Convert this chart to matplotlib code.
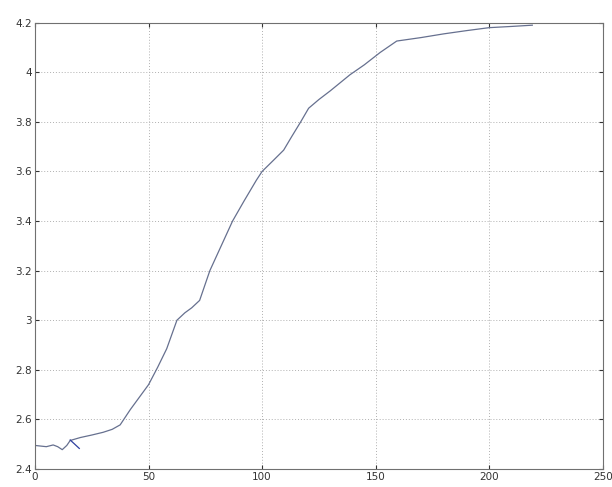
import matplotlib
matplotlib.use("Agg")
import matplotlib.pyplot as plt

# main curve
x_main = [0, 3, 5, 8, 10, 12, 14, 15.5, 20, 25, 30, 34, 37.5, 42, 46, 50, 54, 58, 62.5, 66, 69, 72.5, 77, 82, 87, 92, 97.5, 100, 105, 109.5, 113, 117, 120.5, 125, 130, 138.7, 145, 152, 159.3, 170, 180, 190, 200, 210, 219]
y_main = [2.495, 2.492, 2.49, 2.497, 2.49, 2.478, 2.495, 2.515, 2.527, 2.537, 2.548, 2.56, 2.578, 2.64, 2.69, 2.74, 2.81, 2.885, 3.0, 3.03, 3.05, 3.08, 3.2, 3.3, 3.4, 3.48, 3.565, 3.6, 3.645, 3.686, 3.74, 3.8, 3.855, 3.89, 3.925, 3.99, 4.03, 4.08, 4.126, 4.14, 4.155, 4.168, 4.18, 4.185, 4.19]

# short hook near the start
x_hook = [15.5, 17.5, 19.5]
y_hook = [2.517, 2.5, 2.483]

xticks = [0, 50, 100, 150, 200, 250]
yticks = [2.4, 2.6, 2.8, 3.0, 3.2, 3.4, 3.6, 3.8, 4.0, 4.2]
ytick_labels = ["2.4", "2.6", "2.8", "3", "3.2", "3.4", "3.6", "3.8", "4", "4.2"]

fig = plt.figure(figsize=(6.12, 4.87), dpi=100)
ax = fig.add_axes([35/612, 18/487, (602.7-35)/612, (469-22.7)/487])

ax.plot(x_main, y_main, color="#66708f", linewidth=0.9)
ax.plot(x_hook, y_hook, color="#3040a0", linewidth=0.9)

ax.set_xlim(0, 250)
ax.set_ylim(2.4, 4.2)
ax.set_xticks(xticks)
ax.set_xticklabels([str(t) for t in xticks])
ax.set_yticks(yticks)
ax.set_yticklabels(ytick_labels)
ax.grid(True, linestyle=(0, (1, 2)), color="#b0b0b0", linewidth=0.7)
ax.tick_params(direction="in", length=3, labelsize=7.5, colors="#333333", pad=2,
               top=True, right=True)
for s in ax.spines.values():
    s.set_color("#707070")
    s.set_linewidth(0.8)

fig.savefig("out.png", dpi=100)
